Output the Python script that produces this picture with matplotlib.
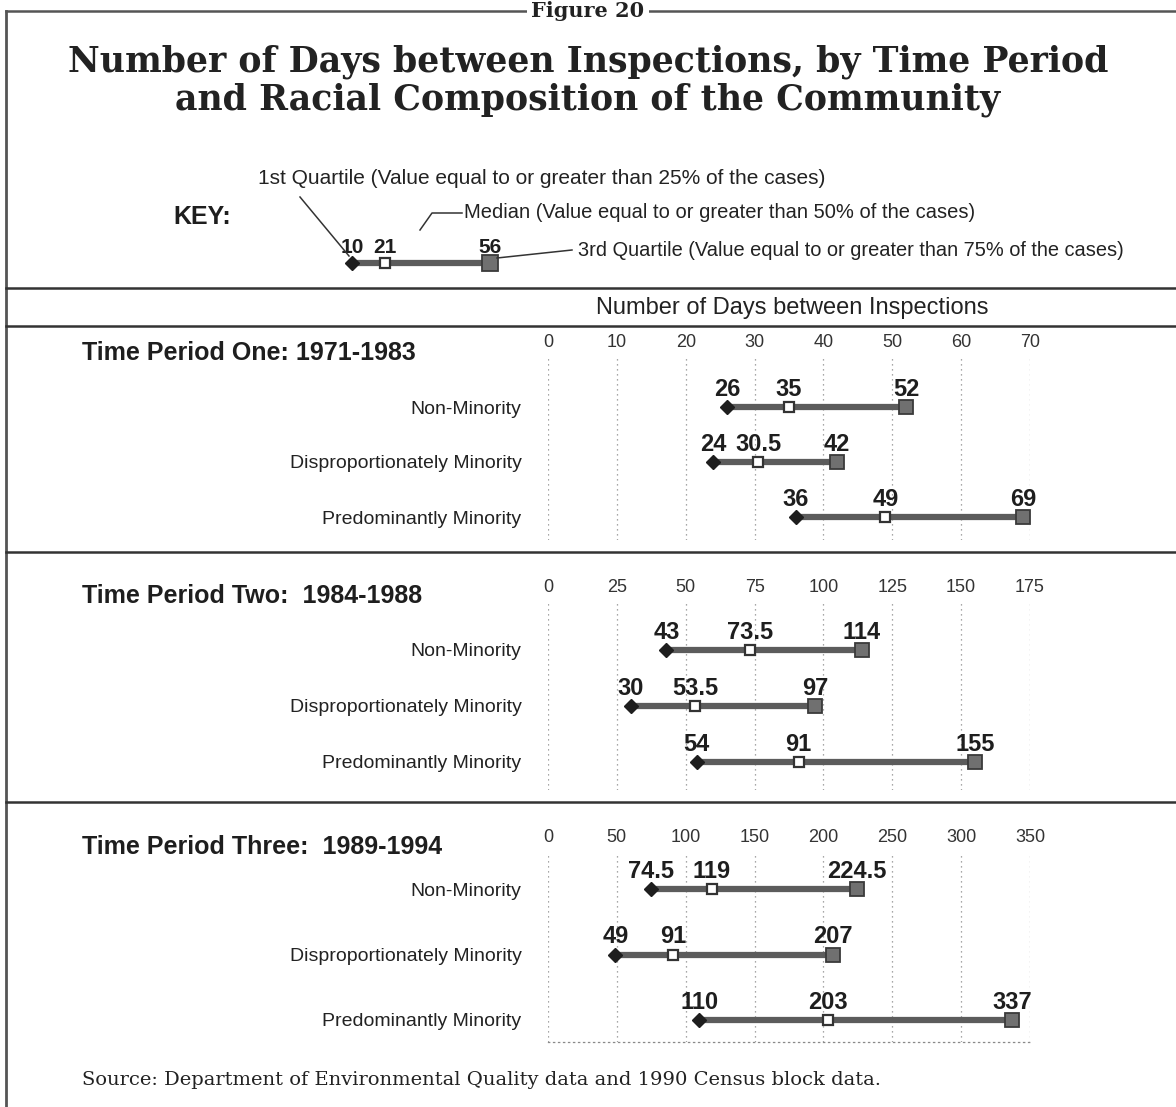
import matplotlib.pyplot as plt
from matplotlib.lines import Line2D

# figure size in pixels (dpi 100)
W, H = 1176, 1107

groups = ['Non-Minority', 'Disproportionately Minority', 'Predominantly Minority']
periods = ['Time Period One: 1971-1983', 'Time Period Two:  1984-1988',
           'Time Period Three:  1989-1994']

# quartiles, one list per time period (order follows groups)
q1_one = [26, 24, 36]
med_one = [35, 30.5, 49]
q3_one = [52, 42, 69]

q1_two = [43, 30, 54]
med_two = [73.5, 53.5, 91]
q3_two = [114, 97, 155]

q1_three = [74.5, 49, 110]
med_three = [119, 91, 203]
q3_three = [224.5, 207, 337]

ticks_one = [0, 10, 20, 30, 40, 50, 60, 70]
ticks_two = [0, 25, 50, 75, 100, 125, 150, 175]
ticks_three = [0, 50, 100, 150, 200, 250, 300, 350]

# the example in the key
key_values = [10, 21, 56]
key_notes = ['1st Quartile (Value equal to or greater than 25% of the cases)',
             'Median (Value equal to or greater than 50% of the cases)',
             '3rd Quartile (Value equal to or greater than 75% of the cases)']

SANS = ['Liberation Sans', 'DejaVu Sans']
SERIF = ['DejaVu Serif']
plt.rcParams['font.family'] = SANS

LINE_C = '#5c5c5c'
DARK = '#1e1e1e'


def fx(x):
    return x / W


def fy(y):
    return 1 - y / H


def rect(l, t, r, b):
    return [l / W, 1 - b / H, (r - l) / W, (b - t) / H]


def fig_line(fig, xs, ys, lw=1.6, color='#333333', z=1):
    fig.add_artist(Line2D([fx(x) for x in xs], [fy(y) for y in ys],
                          transform=fig.transFigure, lw=lw, color=color, zorder=z))


def draw_range(ax, y, q1, med, q3, big=10, label_size=17, offset=8):
    ax.plot([q1, q3], [y, y], color=LINE_C, lw=4.5, solid_capstyle='butt',
            zorder=2, clip_on=False)
    ax.plot(q1, y, marker='D', ms=7, color=DARK, mec=DARK, zorder=3, clip_on=False)
    ax.plot(med, y, marker='s', ms=7, mfc='white', mec='#333333', mew=1.6,
            zorder=4, clip_on=False)
    ax.plot(q3, y, marker='s', ms=big, mfc='#707070', mec='#3a3a3a', mew=1.3,
            zorder=4, clip_on=False)
    for v in (q1, med, q3):
        ax.annotate(f'{v:g}', (v, y), xytext=(0, offset), textcoords='offset points',
                    ha='center', va='baseline', fontsize=label_size,
                    fontweight='bold', color=DARK)


fig = plt.figure(figsize=(W / 100, H / 100), dpi=100)

# frame and separators
fig_line(fig, [6, W], [11, 11], lw=1.8, color='#555555')
fig_line(fig, [6, 6], [11, H], lw=2.0, color='#555555')
for yy in (288, 326, 552, 802):
    fig_line(fig, [6, W], [yy, yy], lw=1.8)

fig.text(fx(588), fy(11), 'Figure 20', family=SERIF, fontweight='bold', fontsize=15,
         ha='center', va='center', zorder=5, color='#222222',
         bbox=dict(facecolor='white', edgecolor='none', pad=3))

fig.text(fx(588), fy(62), 'Number of Days between Inspections, by Time Period',
         family=SERIF, fontweight='bold', fontsize=25, ha='center', va='center',
         color='#222222')
fig.text(fx(588), fy(100), 'and Racial Composition of the Community',
         family=SERIF, fontweight='bold', fontsize=25, ha='center', va='center',
         color='#222222')

# key
fig.text(fx(173), fy(217), 'KEY:', fontsize=18, fontweight='bold', va='center',
         color=DARK)
fig.text(fx(258), fy(178), key_notes[0], fontsize=15, va='center', color='#222222')
fig.text(fx(464), fy(213), key_notes[1], fontsize=14.5, va='center', color='#222222')
fig.text(fx(578), fy(250), key_notes[2], fontsize=14.4, va='center', color='#222222')
fig_line(fig, [300, 349], [197, 256], lw=1.1)
fig_line(fig, [420, 432, 462], [230, 213, 213], lw=1.1)
fig_line(fig, [497, 572], [258, 250], lw=1.1)

key_ax = fig.add_axes(rect(330, 240, 520, 286))
px_per_unit = (490 - 352) / (key_values[2] - key_values[0])
key_ax.set_xlim(key_values[0] - (352 - 330) / px_per_unit,
                key_values[2] + (520 - 490) / px_per_unit)
key_ax.set_ylim(-1, 1)
key_ax.axis('off')
draw_range(key_ax, 0, *key_values, big=12, label_size=15, offset=7)

# axis header
fig.text(fx(792), fy(308), 'Number of Days between Inspections', fontsize=17,
         ha='center', va='center', color='#222222')

panels = [
    (q1_one, med_one, q3_one, ticks_one, 358, 540, 407, 55, 353),
    (q1_two, med_two, q3_two, ticks_two, 603, 790, 650, 56, 596),
    (q1_three, med_three, q3_three, ticks_three, 853, 1042, 889, 65.5, 847),
]

for i, (q1, med, q3, ticks, top, bottom, row0, step, title_y) in enumerate(panels):
    ax = fig.add_axes(rect(548, top, 1030, bottom))
    ax.set_xlim(ticks[0], ticks[-1])
    ax.set_ylim((bottom - row0) / step, -(row0 - top) / step)
    ax.set_xticks(ticks)
    ax.xaxis.tick_top()
    ax.tick_params(axis='x', length=0, pad=5, labelsize=13, labelcolor='#333333')
    ax.set_yticks(range(len(groups)))
    ax.set_yticklabels(groups)
    ax.tick_params(axis='y', length=0, pad=19, labelsize=14, labelcolor='#222222')
    ax.grid(axis='x', linestyle=(0, (1, 3)), color='#8a8a8a', lw=0.9)
    for side in ('top', 'left', 'right', 'bottom'):
        ax.spines[side].set_visible(False)
    if i == 2:
        ax.spines['bottom'].set_visible(True)
        ax.spines['bottom'].set_linestyle((0, (1, 3)))
        ax.spines['bottom'].set_color('#8a8a8a')
        ax.spines['bottom'].set_linewidth(0.9)
    ax.set_facecolor('none')
    for r in range(len(groups)):
        draw_range(ax, r, q1[r], med[r], q3[r])
    fig.text(fx(82), fy(title_y), periods[i], fontsize=18, fontweight='bold',
             va='center', color=DARK)

fig.text(fx(82), fy(1080),
         'Source: Department of Environmental Quality data and 1990 Census block data.',
         family=SERIF, fontsize=14, va='center', color='#222222')

fig.savefig('out.png', dpi=100)
